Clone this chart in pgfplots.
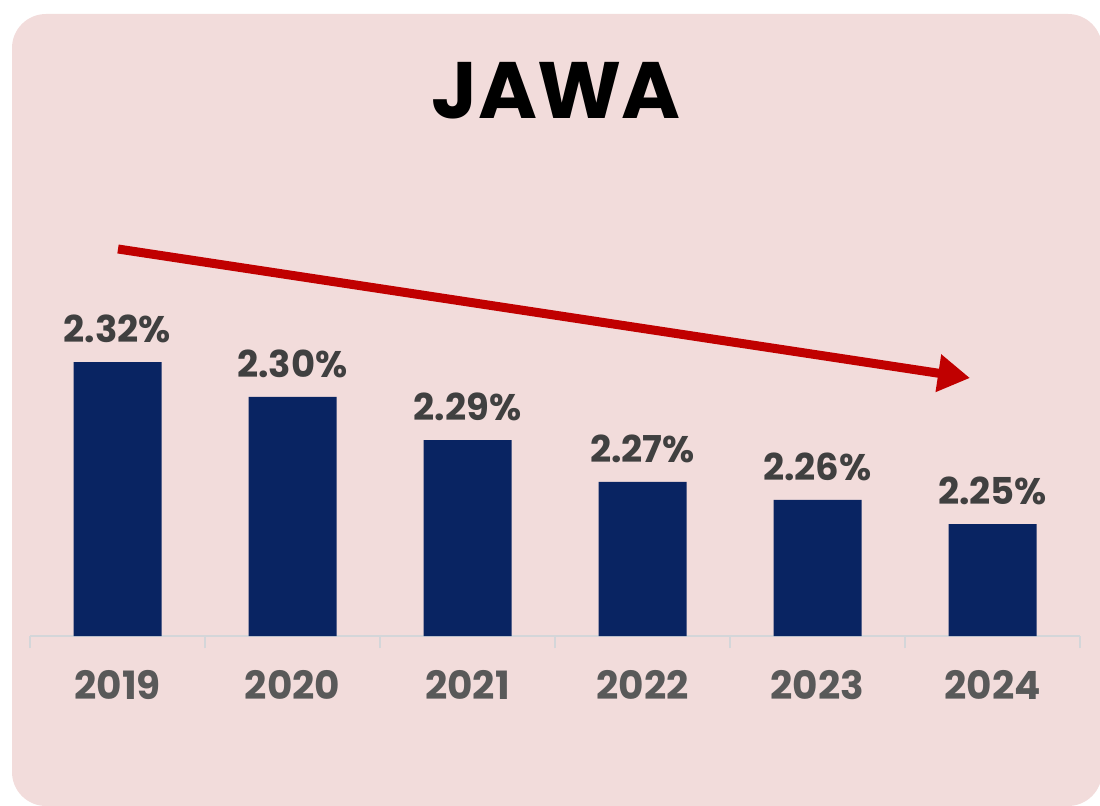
\documentclass[border=0pt]{standalone}
\usepackage{pgfplots}
\pgfplotsset{compat=1.18}
\usepackage{fontspec}
\setmainfont{Poppins}
\usetikzlibrary{arrows.meta}
\definecolor{bgpink}{RGB}{242,220,219}
\definecolor{navy}{RGB}{9,36,98}
\definecolor{arrowred}{RGB}{192,0,0}
\definecolor{lblgray}{RGB}{64,64,64}
\definecolor{tickgray}{RGB}{89,89,89}
\definecolor{axgray}{RGB}{212,214,217}
\begin{document}
\begin{tikzpicture}
\clip (0,0) rectangle (550pt,402.5pt);
\fill[bgpink, rounded corners=17pt] (6pt,-0.5pt) rectangle (551pt,395.5pt);
\node[font=\fontsize{40}{42}\selectfont\bfseries, text=black] at (278pt,357pt) {JAWA};
\begin{axis}[
  at={(15pt,84.5pt)}, anchor=south west,
  scale only axis, width=525pt, height=228.3pt,
  xmin=-0.5, xmax=5.5, ymin=2.20, ymax=2.40,
  axis x line*=bottom, axis y line=none,
  x axis line style={axgray, line width=1.3pt, -},
  xtick={0,1,2,3,4,5},
  xticklabels={2019,2020,2021,2022,2023,2024},
  major x tick style={draw=none},
  minor xtick={-0.5,0.5,1.5,2.5,3.5,4.5,5.5},
  minor x tick style={axgray, line width=1.3pt},
  minor tick length=6pt,
  tick align=outside,
  xticklabel style={font=\fontsize{19.5}{21}\selectfont\bfseries, text=tickgray, anchor=north, inner sep=0pt, yshift=-12.5pt},
  /pgf/number format/assume math mode=true,
  ybar, bar width=44pt,
  nodes near coords={\pgfmathprintnumber[fixed,fixed zerofill,precision=2]{\pgfplotspointmeta}\%},
  nodes near coords style={font=\fontsize{18.5}{20}\selectfont\bfseries, text=lblgray, anchor=south, inner sep=0pt, yshift=9.5pt},
  clip=false,
]
\addplot[fill=navy, draw=none] coordinates {(0,2.3200) (1,2.3047) (2,2.2858) (3,2.2675) (4,2.2596) (5,2.2490)};
\end{axis}
\draw[arrowred, line width=4.5pt, -{Triangle[length=16pt,width=18pt]}] (59pt,278pt) -- (485pt,213.5pt);
\end{tikzpicture}
\end{document}
